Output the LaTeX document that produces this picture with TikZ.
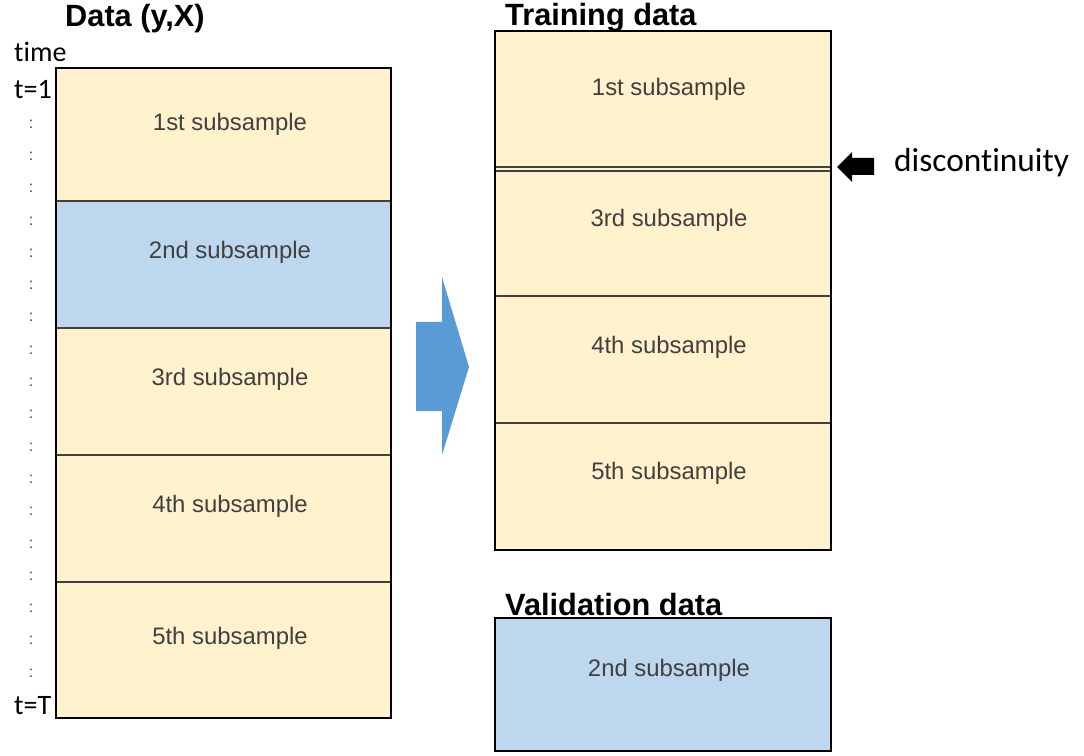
\documentclass[tikz,border=0pt]{standalone}
\usepackage{fontspec}
\setmainfont{Liberation Sans}
\newfontfamily\calibri[Ligatures=NoCommon]{Carlito}

\definecolor{cream}{HTML}{FFF2CC}
\definecolor{paleblue}{HTML}{BDD7EE}
\definecolor{arrowblue}{HTML}{5B9BD5}
\definecolor{textgray}{HTML}{404040}

\tikzset{
  sub/.style={text=textgray, font=\fontsize{13.6}{16}\selectfont},
  title/.style={anchor=west, font=\fontsize{17.5}{20}\selectfont\bfseries},
  tlabel/.style={anchor=west, font=\calibri\fontsize{16}{19}\selectfont},
  frame/.style={draw=black, line width=1.2pt},
  divider/.style={draw=black!75, line width=0.6pt},
}

\begin{document}
\begin{tikzpicture}[x=0.02cm,y=-0.02cm]
\useasboundingbox (0,0) rectangle (1084,756);

% full sample, split in time order
\fill[cream] (56,68) rectangle (391,718);
\fill[paleblue] (56,201) rectangle (391,328);
\foreach \y in {201,328,455,582} \draw[divider] (56,\y) -- (391,\y);
\draw[frame] (56,68) rectangle (391,718);

\node [title] (D) at (59,19) {Data (y,X)};
\node [tlabel] (time) at (8,52) {time};
\node [tlabel] (t1) at (8,90) {t=1};
\node [tlabel] (tT) at (8,706) {t=T};
\foreach \i in {0,...,17}
  \node [text=black!75, font=\fontsize{9}{10}\selectfont] (dot\i) at (31,{124+\i*32.3}) {:};

\node [sub] (L1) at (230,124) {1st subsample};
\node [sub] (L2) at (230,252) {2nd subsample};
\node [sub] (L3) at (230,379) {3rd subsample};
\node [sub] (L4) at (230,506) {4th subsample};
\node [sub] (L5) at (230,638) {5th subsample};

% arrow
\fill[arrowblue] (416,322) -- (442,322) -- (442,277) -- (469,367)
  -- (442,455) -- (442,411) -- (416,411) -- cycle;

% training data
\fill[cream] (495,31) rectangle (831,550);
\foreach \y in {167,171,296,423} \draw[divider] (495,\y) -- (831,\y);
\draw[frame] (495,31) rectangle (831,550);

\node [title] (T) at (499,18) {Training data};
\node [sub] (R1) at (669,89) {1st subsample};
\node [sub] (R3) at (669,220) {3rd subsample};
\node [sub] (R4) at (669,347) {4th subsample};
\node [sub] (R5) at (669,473) {5th subsample};

\fill (837,167) -- (852,152) -- (852,158) -- (874,158) -- (874,175)
  -- (852,175) -- (852,182) -- cycle;
\node [anchor=west, font=\calibri\fontsize{19}{22}\selectfont] (gap) at (888,163) {discontinuity};

% validation data
\fill[paleblue] (495,618) rectangle (831,751);
\draw[frame] (495,618) rectangle (831,751);

\node [title] (V) at (499,605) {Validation data};
\node [sub] (V2) at (669,670) {2nd subsample};

\end{tikzpicture}
\end{document}
